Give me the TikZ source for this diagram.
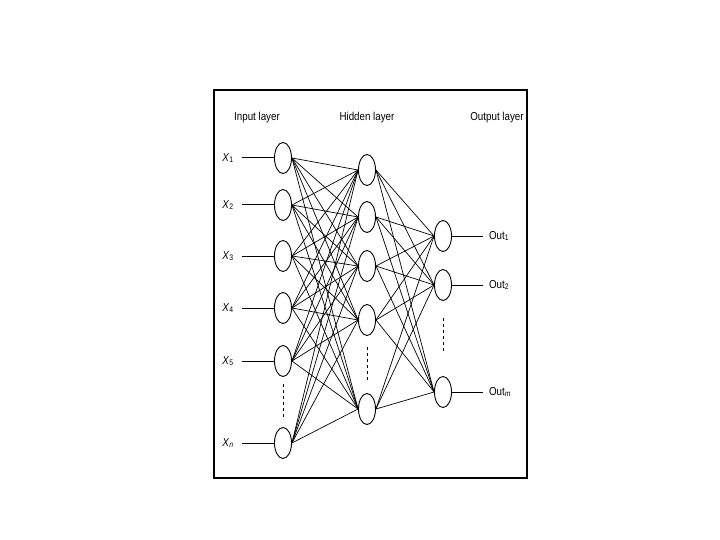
\documentclass[tikz,border=0pt]{standalone}
\usepackage{fontspec}
\setmainfont{Liberation Sans}
\usetikzlibrary{shapes.geometric}
\begin{document}
\begin{tikzpicture}[x=1pt,y=-1pt,
  neuron/.style={ellipse,draw,line width=0.9pt,fill=white,minimum width=17pt,minimum height=31pt,inner sep=0pt},
  wire/.style={line width=0.7pt},
  feed/.style={line width=1pt},
  dots/.style={line width=0.7pt,dash pattern=on 3pt off 3pt},
  title/.style={font=\fontsize{11.5}{13}\selectfont,xscale=0.85},
  lab/.style={font=\fontsize{11.5}{13}\selectfont,xscale=0.85}]
\useasboundingbox (0,0) rectangle (720,540);
\draw[line width=1.3pt] (214,90) rectangle (527,478);
% titles
\node[title] (tin) at (257,118) {Input layer};
\node[title] (thid) at (367,118) {Hidden layer};
\node[title] (tout) at (497,118) {Output layer};
% input nodes
\foreach \n/\y in {1/158,2/205,3/256,4/308,5/361,6/443}
  \node[neuron] (i\n) at (283,\y) {};
% hidden nodes
\foreach \n/\y in {1/170,2/217,3/266,4/320,5/409}
  \node[neuron] (h\n) at (367,\y) {};
% output nodes
\foreach \n/\y in {1/236,2/285,3/392}
  \node[neuron] (o\n) at (443,\y) {};
% input labels and feed lines
\foreach \n/\s/\y in {1/1/158,2/2/205,3/3/256,4/4/308,5/5/361,6/\textit{n}/443}{
  \node[lab] (x\n) at (228,\y) {\textit{X}\textsubscript{\s}};
  \coordinate (c\n) at (242,\y);
  \draw[feed] (c\n) -- (i\n.west);
}
% output lines and labels
\foreach \n/\s/\y in {1/1/236,2/2/285,3/\textit{m}/392}{
  \coordinate (d\n) at (483,\y);
  \draw[feed] (o\n.east) -- (d\n);
  \node[lab,anchor=west] (out\n) at (486,\y) {Out\textsubscript{\s}};
}
% connections
\foreach \a in {1,...,6}
  \foreach \b in {1,...,5}
    \draw[wire] (i\a.east) -- (h\b.west);
\foreach \a in {1,...,5}
  \foreach \b in {1,...,3}
    \draw[wire] (h\a.east) -- (o\b.west);
% dashed continuation marks
\coordinate (p1) at (283,384); \coordinate (p2) at (283,418);
\coordinate (q1) at (367,347); \coordinate (q2) at (367,380);
\coordinate (r1) at (443,318); \coordinate (r2) at (443,352);
\draw[dots] (p1) -- (p2);
\draw[dots] (q1) -- (q2);
\draw[dots] (r1) -- (r2);
\end{tikzpicture}
\end{document}
